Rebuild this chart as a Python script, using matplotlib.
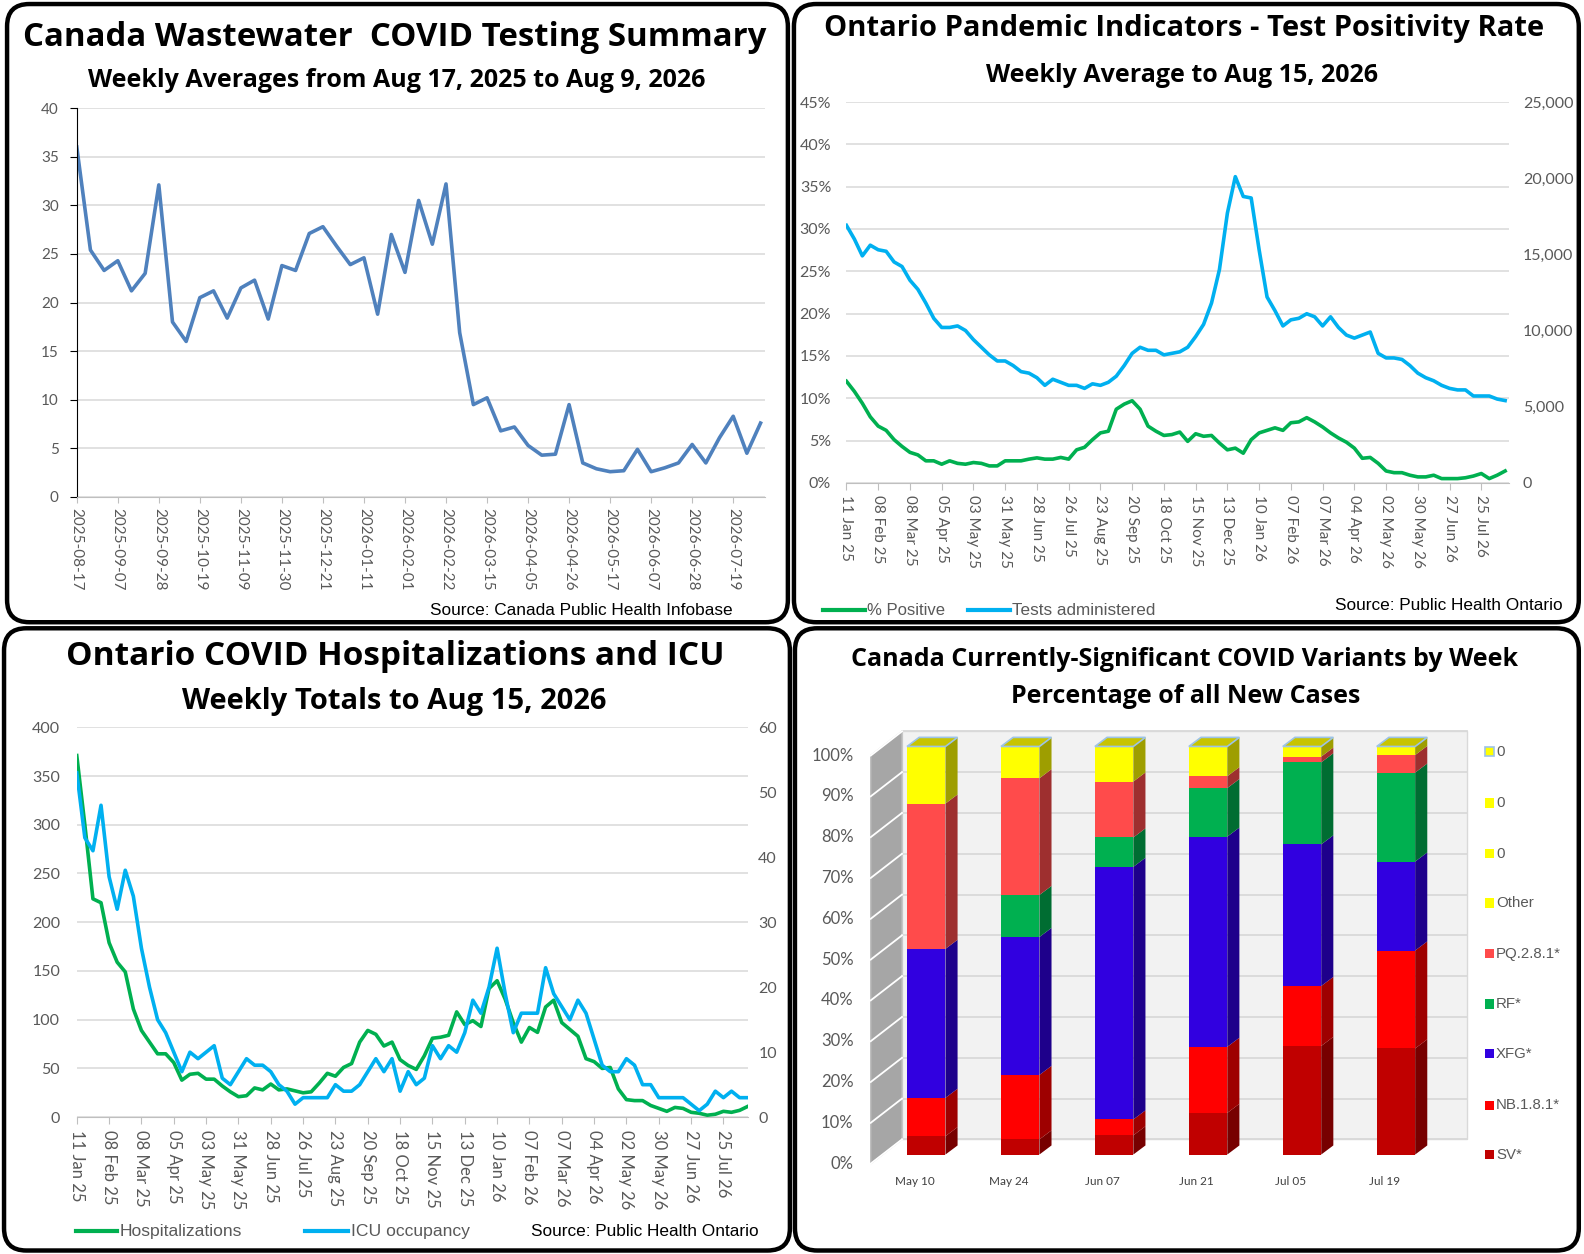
import matplotlib
matplotlib.use('Agg')
import matplotlib.pyplot as plt
from matplotlib.patches import FancyBboxPatch, Polygon, Rectangle
from matplotlib.colors import to_rgb
import numpy as np

# ---------------- DATA ----------------
# Panel 1: Canada wastewater weekly averages
ww_values = [36.0, 25.4, 23.3, 24.3, 21.2, 23.0, 32.1, 18.0, 16.0, 20.5, 21.2, 18.4, 21.5,
             22.3, 18.3, 23.8, 23.3, 27.1, 27.8, 25.8, 23.9, 24.6, 18.8, 27.0, 23.1, 30.5,
             26.0, 32.2, 16.9, 9.5, 10.2, 6.8, 7.2, 5.3, 4.3, 4.4, 9.5, 3.5, 2.9, 2.6, 2.7,
             4.9, 2.6, 3.0, 3.5, 5.4, 3.5, 6.1, 8.3, 4.5, 7.6]
ww_tick_labels = ['2025-08-17', '2025-09-07', '2025-09-28', '2025-10-19', '2025-11-09',
                  '2025-11-30', '2025-12-21', '2026-01-11', '2026-02-01', '2026-02-22',
                  '2026-03-15', '2026-04-05', '2026-04-26', '2026-05-17', '2026-06-07',
                  '2026-06-28', '2026-07-19']

# Panels 2 & 3 share weekly categories from 11 Jan 25
on_tick_labels = ['11 Jan 25', '08 Feb 25', '08 Mar 25', '05 Apr 25', '03 May 25', '31 May 25',
                  '28 Jun 25', '26 Jul 25', '23 Aug 25', '20 Sep 25', '18 Oct 25', '15 Nov 25',
                  '13 Dec 25', '10 Jan 26', '07 Feb 26', '07 Mar 26', '04 Apr 26', '02 May 26',
                  '30 May 26', '27 Jun 26', '25 Jul 26']

pct_positive = [12.0, 10.8, 9.4, 7.8, 6.7, 6.2, 5.1, 4.3, 3.6, 3.3, 2.6, 2.6, 2.2, 2.6, 2.3,
                2.2, 2.4, 2.3, 2.0, 2.0, 2.6, 2.6, 2.6, 2.8, 2.95, 2.8, 2.8, 3.0, 2.8, 3.9,
                4.2, 5.1, 5.9, 6.1, 8.7, 9.3, 9.7, 8.7, 6.7, 6.1, 5.6, 5.7, 6.0,
                4.9, 5.8, 5.5, 5.6, 4.7, 3.9, 4.1, 3.5, 5.1, 5.9, 6.2, 6.5, 6.2, 7.1, 7.2,
                7.7, 7.2, 6.6, 5.9, 5.3, 4.8, 4.1, 2.9, 3.0, 2.3, 1.4, 1.2, 1.2, 0.9, 0.7,
                0.7, 0.9, 0.5, 0.5, 0.5, 0.6, 0.8, 1.1, 0.5, 0.9, 1.4]
tests_admin = [16900, 16000, 14900, 15600, 15300, 15200, 14500, 14200, 13300, 12700, 11800,
               10800, 10200, 10200, 10300, 10000, 9400, 8900, 8400, 8000, 8000, 7700, 7300,
               7200, 6900, 6400, 6800, 6600, 6400, 6400, 6200, 6500, 6400, 6600, 7000, 7700,
               8500, 8900, 8700, 8700, 8400, 8500, 8600,
               8900, 9600, 10400, 11800, 14000, 17700, 20100, 18800, 18700, 15300, 12200,
               11300, 10300, 10700, 10800, 11100, 10900, 10300, 10900, 10200, 9700, 9500,
               9700, 9900, 8500, 8200, 8200, 8100, 7700, 7200, 6900, 6700, 6400, 6200, 6100,
               6100, 5700, 5700, 5700, 5500, 5400]

hospitalizations = [371, 300, 224, 220, 179, 159, 149, 111, 89, 77, 65, 65, 56, 38, 44, 45, 39,
                    39, 32, 26, 21, 22, 30, 28, 34, 28, 29, 27, 25, 26, 35, 45, 42, 51, 55, 77,
                    89, 85, 73, 77, 59,
                    53, 49, 63, 81, 82, 84, 108, 95, 99, 93, 132, 140, 121, 97, 77, 92, 87, 113,
                    120, 97, 90, 83, 60, 57, 50, 51, 29, 18, 17, 17, 12, 9, 6, 10, 9, 5, 4, 2,
                    3, 6, 5, 7, 11]
icu_occupancy = [53, 43, 41, 48, 37, 32, 38, 34, 26, 20, 15, 13, 10, 7, 10, 9, 10, 11, 6, 5, 7,
                 9, 8, 8, 7, 5, 4, 2, 3, 3, 3, 3, 5, 4, 4, 5, 7, 9, 7, 9, 4,
                 7, 5, 6, 11, 9, 11, 10, 13, 18, 16, 20, 26, 19, 13, 16, 16, 16, 23, 19, 17, 15,
                 18, 16, 12, 8, 7, 7, 9, 8, 5, 5, 3, 3, 3, 3, 2, 1, 2, 4, 3, 4, 3, 3]

# Panel 4: variants (% of new cases)
variant_weeks = ['May 10', 'May 24', 'Jun 07', 'Jun 21', 'Jul 05', 'Jul 19']
sv = [4.5, 3.7, 4.7, 10.2, 26.6, 26.0]
nb181 = [9.4, 15.8, 3.9, 16.2, 14.7, 24.0]
xfg = [36.5, 33.8, 61.9, 51.5, 34.7, 21.8]
rf = [0.0, 10.3, 7.2, 11.9, 20.1, 21.8]
pq281 = [35.6, 28.6, 13.7, 2.9, 1.4, 4.3]
other = [14.0, 7.8, 8.6, 7.3, 2.5, 2.1]
zero_series = [0.0, 0.0, 0.0, 0.0, 0.0, 0.0]
variant_series = [('SV*', sv, '#C00000'), ('NB.1.8.1*', nb181, '#FF0000'),
                  ('XFG*', xfg, '#3100E0'), ('RF*', rf, '#00B050'),
                  ('PQ.2.8.1*', pq281, '#FF4B4B'), ('Other', other, '#FFFF00'),
                  ('0', zero_series, '#FFFF00'), ('0', zero_series, '#FFFF00'),
                  ('0', zero_series, '#FFFF00')]

# ---------------- STYLE ----------------
TITLE = ['Open Sans', 'DejaVu Sans']
TICK = ['Lato', 'DejaVu Sans']
NARROW = ['Liberation Sans Narrow', 'Liberation Sans', 'DejaVu Sans']
GRAY = '#595959'
GRID = '#D9D9D9'
GREEN = '#00B050'
BLUE = '#00B0F0'

W, H = 1584, 1254
K = 0.99            # layout coordinate system (slightly scaled pixel grid)
WK, HK = W * K, H * K
fig = plt.figure(figsize=(W / 100, H / 100), dpi=100)


def px_axes(x0, y0, x1, y1):
    return fig.add_axes([x0 / WK, 1 - y1 / HK, (x1 - x0) / WK, (y1 - y0) / HK])


bg = fig.add_axes([0, 0, 1, 1])
bg.set_xlim(0, WK)
bg.set_ylim(HK, 0)
bg.axis('off')

# panel borders
for (x0, y0, x1, y1) in [(7, 4, 780, 616), (786, 4, 1563, 616),
                         (4, 622, 782, 1238), (787, 622, 1563, 1238)]:
    bg.add_patch(FancyBboxPatch((x0, y0), x1 - x0, y1 - y0,
                                boxstyle='round,pad=0,rounding_size=22',
                                fc='none', ec='black', lw=3.2))


def title(x, y, s, size):
    bg.text(x, y, s, ha='center', va='center', fontsize=size, fontweight='bold',
            family=TITLE, color='black')


def style_line_axes(ax):
    for sp in ['top', 'right', 'left']:
        ax.spines[sp].set_visible(False)
    ax.spines['bottom'].set_color('#BFBFBF')
    ax.grid(axis='y', color=GRID, lw=1.1)
    ax.set_axisbelow(True)
    for lab in ax.get_xticklabels() + ax.get_yticklabels():
        lab.set_family(TICK)


# ---------------- PANEL 1 ----------------
title(391, 37, 'Canada Wastewater  COVID Testing Summary', 23.8)
title(393, 80, 'Weekly Averages from Aug 17, 2025 to Aug 9, 2026', 18)
ax1 = px_axes(76, 107, 757, 492)
x1 = np.arange(len(ww_values))
ax1.plot(x1, ww_values, color='#4F81BD', lw=2.6, solid_joinstyle='round')
ax1.set_xlim(0, len(ww_values) - 0.7)
ax1.set_ylim(0, 40)
ax1.set_yticks(range(0, 41, 5))
ax1.set_xticks(x1[::3])
ax1.set_xticklabels(ww_tick_labels, rotation=270)
style_line_axes(ax1)
ax1.spines['left'].set_visible(True)
ax1.spines['left'].set_color('black')
ax1.tick_params(axis='y', length=5, color='black', labelcolor=GRAY, labelsize=11, pad=8)
ax1.tick_params(axis='x', length=4, color='#BFBFBF', labelcolor=GRAY, labelsize=11, pad=4)
bg.text(725, 604, 'Source: Canada Public Health Infobase', ha='right', va='center',
        fontsize=12.4, family=NARROW, color='black')

# ---------------- PANEL 2 ----------------
title(1172, 28, 'Ontario Pandemic Indicators - Test Positivity Rate', 21)
title(1170, 75, 'Weekly Average to Aug 15, 2026', 18)
ax2 = px_axes(838, 101, 1494, 478)
x2 = np.arange(len(pct_positive))
ax2.plot(x2, pct_positive, color=GREEN, lw=2.6)
ax2.set_xlim(0, len(pct_positive) - 0.5)
ax2.set_ylim(0, 45)
ax2.set_yticks(range(0, 46, 5))
ax2.set_yticklabels([f'{v}%' for v in range(0, 46, 5)])
ax2.set_xticks(x2[::4])
ax2.set_xticklabels(on_tick_labels, rotation=270)
style_line_axes(ax2)
ax2.tick_params(axis='y', length=0, labelcolor=GRAY, labelsize=11.5, pad=11)
ax2.tick_params(axis='x', length=5, color='#BFBFBF', labelcolor=GRAY, labelsize=11, pad=4)
ax2b = ax2.twinx()
ax2b.plot(x2, tests_admin, color=BLUE, lw=2.6)
ax2b.set_ylim(0, 25000)
ax2b.set_yticks(range(0, 25001, 5000))
ax2b.set_yticklabels([f'{v:,}' for v in range(0, 25001, 5000)])
for sp in ax2b.spines.values():
    sp.set_visible(False)
ax2b.tick_params(axis='y', length=0, labelcolor=GRAY, labelsize=11.5, pad=10)
for lab in ax2b.get_yticklabels():
    lab.set_family(TICK)
# legend
bg.plot([815, 856], [604, 604], color=GREEN, lw=3)
bg.text(858, 604, '% Positive', ha='left', va='center', fontsize=12, family=NARROW, color=GRAY)
bg.plot([958, 1000], [604, 604], color=BLUE, lw=3)
bg.text(1002, 604, 'Tests administered', ha='left', va='center', fontsize=12.3, family=NARROW,
        color=GRAY)
bg.text(1547, 599, 'Source: Public Health Ontario', ha='right', va='center', fontsize=12.4,
        family=NARROW, color='black')

# ---------------- PANEL 3 ----------------
title(391, 650, 'Ontario COVID Hospitalizations and ICU', 24)
title(390, 694, 'Weekly Totals to Aug 15, 2026', 21)
ax3 = px_axes(76, 720, 741, 1106)
x3 = np.arange(len(hospitalizations))
ax3.plot(x3, hospitalizations, color=GREEN, lw=2.6)
ax3.set_xlim(0, len(hospitalizations) - 0.9)
ax3.set_ylim(0, 400)
ax3.set_yticks(range(0, 401, 50))
ax3.set_xticks(x3[::4])
ax3.set_xticklabels(on_tick_labels, rotation=270)
style_line_axes(ax3)
ax3.tick_params(axis='y', length=0, labelcolor=GRAY, labelsize=11.5, pad=12)
ax3.tick_params(axis='x', length=5, color='#BFBFBF', labelcolor=GRAY, labelsize=12, pad=4)
ax3b = ax3.twinx()
ax3b.plot(x3, icu_occupancy, color=BLUE, lw=2.6)
ax3b.set_ylim(0, 60)
ax3b.set_yticks(range(0, 61, 10))
for sp in ax3b.spines.values():
    sp.set_visible(False)
ax3b.tick_params(axis='y', length=0, labelcolor=GRAY, labelsize=11.5, pad=7)
for lab in ax3b.get_yticklabels():
    lab.set_family(TICK)
bg.plot([75, 116], [1219, 1219], color=GREEN, lw=3)
bg.text(118, 1219, 'Hospitalizations', ha='left', va='center', fontsize=12.6, family=NARROW,
        color=GRAY)
bg.plot([302, 345], [1219, 1219], color=BLUE, lw=3)
bg.text(347, 1219, 'ICU occupancy', ha='left', va='center', fontsize=12.6, family=NARROW,
        color=GRAY)
bg.text(751, 1219, 'Source: Public Health Ontario', ha='right', va='center', fontsize=12.4,
        family=NARROW, color='black')

# ---------------- PANEL 4 (pseudo-3D stacked bars) ----------------
title(1173, 653, 'Canada Currently-Significant COVID Variants by Week', 18)
title(1174, 690, 'Percentage of all New Cases', 18)
ax4 = px_axes(800, 712, 1470, 1185)
PXX, PXY, X0, Y0 = 93.0, 4.04, 917.0, 1143.0
ax4.set_xlim((800 - X0) / PXX, (1470 - X0) / PXX)
ax4.set_ylim((Y0 - 1185) / PXY, (Y0 - 712) / PXY)
ax4.axis('off')

bw = 38 / PXX
ddx, ddy = 12 / PXX, 9 / PXY        # bar depth
fx, fy = -11.6 / PXX, -9 / PXY      # front plane offset
bx, by = 19.4 / PXX, 15 / PXY       # back wall offset
xc = (873.6 - X0) / PXX             # wall corner in bar plane
wall_r = (1452 - X0) / PXX

ax4.add_patch(Rectangle((xc + bx, by), wall_r - (xc + bx), 100, fc='#F2F2F2', ec=GRID,
                        lw=1, zorder=0))
ax4.add_patch(Polygon([(xc + fx, fy), (xc + bx, by), (xc + bx, 100 + by), (xc + fx, 100 + fy)],
                      closed=True, fc='#A6A6A6', ec='#BFBFBF', lw=1, zorder=0))
for k in range(0, 101, 10):
    ax4.plot([xc + bx, wall_r], [k + by, k + by], color=GRID, lw=1.3, zorder=0.5)
    ax4.plot([xc + fx, xc + bx], [k + fy, k + by], color='white', lw=1.3, zorder=0.5)
    ax4.text(xc + fx - 17 / PXX, k + fy, f'{k}%', ha='right', va='center', fontsize=12,
             family=TICK, color=GRAY)


def shade(c, f):
    r, g, b = to_rgb(c)
    return (r * f, g * f, b * f)


xs = np.arange(len(variant_weeks))
bottoms = np.zeros(len(variant_weeks))
for name, vals, col in variant_series:
    vals = np.array(vals)
    ax4.bar(xs, vals, bw, bottom=bottoms, color=col, edgecolor='none', zorder=2)
    for i in range(len(xs)):
        if vals[i] > 0:
            xr = xs[i] + bw / 2
            b, t = bottoms[i], bottoms[i] + vals[i]
            ax4.add_patch(Polygon([(xr, b), (xr + ddx, b + ddy), (xr + ddx, t + ddy), (xr, t)],
                                  closed=True, fc=shade(col, 0.62), ec='none', zorder=2))
    bottoms = bottoms + vals
for i in range(len(xs)):
    xl, xr, t = xs[i] - bw / 2, xs[i] + bw / 2, bottoms[i]
    ax4.add_patch(Polygon([(xl, t), (xr, t), (xr + ddx, t + ddy), (xl + ddx, t + ddy)],
                          closed=True, fc='#C8C400', ec='#9DC3E6', lw=1.2, zorder=3))
    ax4.text(xs[i] + fx, (Y0 - 1170) / PXY, variant_weeks[i], ha='center', va='center',
             fontsize=8.5, family=TICK, color='#404040')

# legend (top entry = last series)
leg_y = [744, 795, 845, 894, 944, 994, 1043, 1094, 1143]
for (name, vals, col), yy in zip(variant_series[::-1], leg_y):
    ec = '#9DC3E6' if yy == leg_y[0] else 'none'
    bg.add_patch(Rectangle((1470, yy - 4.5), 9, 9, fc=col, ec=ec, lw=1.2))
    bg.text(1481, yy, name, ha='left', va='center', fontsize=10.8, family=NARROW, color=GRAY)

fig.savefig('out.png', dpi=100)
